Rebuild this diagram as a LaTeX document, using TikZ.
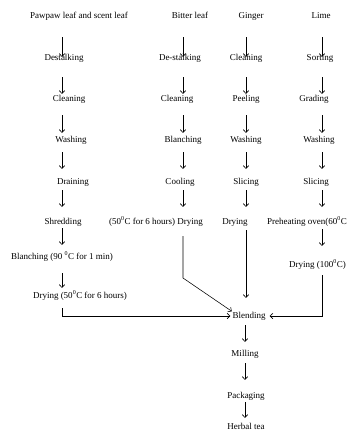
\documentclass[tikz,border=0pt]{standalone}
\usepackage{fontspec}
\setmainfont{Liberation Serif}
\usepackage{tikz}
\usetikzlibrary{arrows.meta}

\tikzset{
  step name/.style={inner sep=0.5pt, text height=6pt, text depth=2pt, font=\fontsize{9}{10}\selectfont},
  flow/.style={-{Straight Barb[length=2.8pt,width=5.5pt]}, line width=0.55pt},
  down1/.style={flow, shorten <=16.5pt, shorten >=-3.5pt},
  down2/.style={flow, shorten <=14.5pt, shorten >=0.5pt},
  down3/.style={flow, shorten <=11.5pt, shorten >=2.5pt},
  down4/.style={flow, shorten <=7.5pt, shorten >=8.5pt},
  down5/.style={flow, shorten <=3.5pt, shorten >=10.5pt}
}

\begin{document}
\begin{tikzpicture}[x=1pt, y=-1pt, every node/.style={step name}]
\useasboundingbox (0,0) rectangle (347,432);

% columns
\coordinate (c1) at (62,316);
\coordinate (c2) at (183,278);
\coordinate (c3) at (246,0);
\coordinate (c4) at (322,0);
\coordinate (c5) at (245,0);

% pawpaw and scent leaf
\node (pawpaw) at (79,16) {Pawpaw leaf and scent leaf};
\node (pdest) at (64,58) {Destalking};
\node (pclean) at (69,99) {Cleaning};
\node (pwash) at (71,140) {Washing};
\node (pdrain) at (73,182) {Draining};
\node (pshred) at (63,222) {Shredding};
\node (pblanch) at (62,257) {Blanching (90 \textsuperscript{0}C for 1 min)};
\node (pdry) at (80,296) {Drying (50\textsuperscript{0}C for 6 hours)};

% bitter leaf
\node (bitter) at (190,16) {Bitter leaf};
\node (bdest) at (180,58) {De-stalking};
\node (bclean) at (177,99) {Cleaning};
\node (bblanch) at (183,140) {Blanching};
\node (bcool) at (180,182) {Cooling};
\node (bdry) at (156,222) {(50\textsuperscript{0}C for 6 hours) Drying};

% ginger
\node (ginger) at (251,16) {Ginger};
\node (gclean) at (246,58) {Cleaning};
\node (gpeel) at (246,99) {Peeling};
\node (gwash) at (246,140) {Washing};
\node (gslice) at (246,182) {Slicing};
\node (gdry) at (235,222) {Drying};

% lime
\node (lime) at (321,16) {Lime};
\node (lsort) at (320,58) {Sorting};
\node (lgrade) at (314,99) {Grading};
\node (lwash) at (319,140) {Washing};
\node (lslice) at (316,182) {Slicing};
\node (lheat) at (307,222) {Preheating oven(60\textsuperscript{0}C};
\node (ldry) at (317.5,265) {Drying (100\textsuperscript{0}C)};

% common steps
\node (blend) at (249,316) {Blending};
\node (mill) at (245,354) {Milling};
\node (pack) at (246,396) {Packaging};
\node (tea) at (246,427) {Herbal tea};

\draw[down1] (pawpaw.south -| c1) -- (pdest.north -| c1);
\draw[down2] (pdest.south -| c1) -- (pclean.north -| c1);
\draw[down3] (pclean.south -| c1) -- (pwash.north -| c1);
\draw[down4] (pwash.south -| c1) -- (pdrain.north -| c1);
\draw[down5] (pdrain.south -| c1) -- (pshred.north -| c1);
\draw[flow, shorten <=1.5pt, shorten >=7.5pt] (pshred.south -| c1) -- (pblanch.north -| c1);
\draw[flow, shorten <=11.5pt, shorten >=3.5pt] (pblanch.south -| c1) -- (pdry.north -| c1);
\draw[flow, shorten <=7.5pt, shorten >=1.5pt] (pdry.south -| c1) |- (blend.west);

\draw[down1] (bitter.south -| c2) -- (bdest.north -| c2);
\draw[down2] (bdest.south -| c2) -- (bclean.north -| c2);
\draw[down3] (bclean.south -| c2) -- (bblanch.north -| c2);
\draw[down4] (bblanch.south -| c2) -- (bcool.north -| c2);
\draw[down5] (bcool.south -| c2) -- (bdry.north -| c2);
\draw[flow, shorten <=9.5pt] (bdry.south -| c2) -- (c2) -- (blend.north west);

\draw[down1] (ginger.south -| c3) -- (gclean.north -| c3);
\draw[down2] (gclean.south -| c3) -- (gpeel.north -| c3);
\draw[down3] (gpeel.south -| c3) -- (gwash.north -| c3);
\draw[down4] (gwash.south -| c3) -- (gslice.north -| c3);
\draw[down5] (gslice.south -| c3) -- (gdry.north -| c3);
\draw[flow, shorten <=3.5pt, shorten >=13.5pt] (gdry.south -| c3) -- (blend.north -| c3);

\draw[down1] (lime.south -| c4) -- (lsort.north -| c4);
\draw[down2] (lsort.south -| c4) -- (lgrade.north -| c4);
\draw[down3] (lgrade.south -| c4) -- (lwash.north -| c4);
\draw[down4] (lwash.south -| c4) -- (lslice.north -| c4);
\draw[down5] (lslice.south -| c4) -- (lheat.north -| c4);
\draw[flow, shorten <=2.5pt, shorten >=14.5pt] (lheat.south -| c4) -- (ldry.north -| c4);
\draw[flow, shorten <=5.5pt, shorten >=3.5pt] (ldry.south -| c4) |- (blend.east);

\draw[flow, shorten <=4.5pt, shorten >=7.5pt] (blend.south -| c5) -- (mill.north -| c5);
\draw[flow, shorten <=4.5pt, shorten >=11.5pt] (mill.south -| c5) -- (pack.north -| c5);
\draw[flow, shorten <=1.5pt, shorten >=4.5pt] (pack.south -| c5) -- (tea.north -| c5);
\end{tikzpicture}
\end{document}
